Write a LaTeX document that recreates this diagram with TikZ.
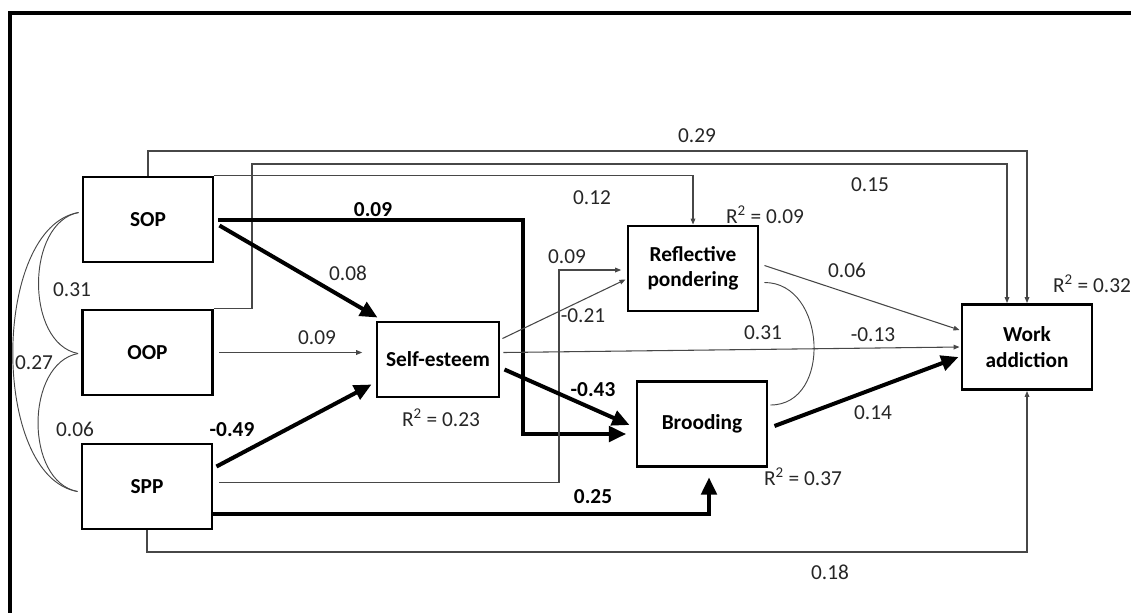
\documentclass[tikz,border=0pt]{standalone}
\usepackage{fontspec}
\setmainfont{Carlito}
\usetikzlibrary{arrows.meta,calc}
\begin{document}
\begin{tikzpicture}[x=0.75pt,y=-0.75pt,
  every node/.append style={font=\fontsize{16}{19}\selectfont},
  var/.style={draw=black,line width=2.2pt,fill=white,align=center,
    minimum width=97.5pt,minimum height=63.75pt,inner sep=0pt,
    font=\fontsize{16}{19}\selectfont\bfseries},
  thinpath/.style={draw=black!72,line width=0.8pt,-{Triangle[length=4.5pt,width=3.5pt]}},
  thickpath/.style={draw=black,line width=3pt,-{Triangle[length=13pt,width=11.5pt]}},
  corr/.style={draw=black!72,line width=0.7pt},
  lab/.style={text=black!85,inner sep=1pt},
  blab/.style={text=black,inner sep=1pt,font=\fontsize{16}{19}\selectfont\bfseries}
]
\useasboundingbox (0,0) rectangle (1131,612);

% outer frame (top and left edges)
\draw[line width=3pt] (10,620) -- (10,13) -- (1140,13);

% variables
\node[var] (SOP) at (148,219.5) {SOP};
\node[var] (OOP) at (147.5,352.5) {OOP};
\node[var] (SPP) at (147,486.5) {SPP};
\node[var,minimum width=91.5pt,minimum height=56.25pt] (SE) at (438,359.5) {Self-esteem};
\node[var] (Reflective) at (693,268.5) {Reflective\\pondering};
\node[var] (Brooding) at (702,424) {Brooding};
\node[var] (Work) at (1027,347) {Work\\addiction};

% routing points
\coordinate (r029) at (1027,151);
\coordinate (r015a) at (252,164);
\coordinate (r015b) at (1007,164);
\coordinate (r009a) at (523,434);
\coordinate (r009b) at (559,270);
\coordinate (r018) at (1027,552);

% direct paths to work addiction
\draw[thinpath] (SOP.north) |- (r029) -- (Work.north);
\draw[thinpath] (OOP.north east) -| (r015a) -- (r015b) -- (r015b |- Work.north);
\draw[thinpath] (SPP.south) |- (r018) -- (Work.south);

% paths from perfectionism dimensions
\draw[thinpath] (SOP.north east) -| (Reflective.north);
\draw[thickpath,shorten >=7pt] ($(SOP.east)+(4,0)$) -| (r009a) -- (r009a -| Brooding.west);
\draw[thickpath] ($(SOP.east)+(5,6)$) -- ($(SE.north west)+(2,-3)$);
\draw[thinpath,shorten <=4pt,shorten >=10pt] (OOP.east) -- (OOP.east -| SE.west);
\draw[thickpath] ($(SPP.east)+(3,-20)$) -- ($(SE.south west)+(-4,-14)$);
\draw[thinpath,shorten >=4pt] ($(SPP.east)+(6,-4)$) -| (r009b) -- (r009b -| Reflective.west);
\draw[thickpath,shorten >=7pt] ($(SPP.south east)+(0,-16)$) -| ($(Brooding.south)+(7,0)$);

% paths from self-esteem
\draw[thinpath] ($(SE.east)+(2,-21)$) -- ($(Reflective.west)+(-1,11)$);
\draw[thinpath] ($(SE.east)+(3,-7)$) -- ($(Work.west)+(-1,0)$);
\draw[thickpath] ($(SE.east)+(4,10)$) -- ($(Brooding.west)+(-6,1)$);

% paths from rumination
\draw[thinpath] ($(Reflective.east)+(5,-3)$) -- ($(Work.west)+(-1,-17)$);
\draw[thickpath] ($(Brooding.east)+(6,2)$) -- ($(Work.west)+(-2,10)$);

% correlations
\draw[corr] ($(Reflective.east)+(5,14)$) .. controls +(62,0) and +(62,0) .. ($(Brooding.east)+(2,-19)$);
\draw[corr] ($(SOP.west)+(-3,-7)$) .. controls +(-53,10) and +(-53,-10) .. ($(OOP.west)+(-3,1)$);
\draw[corr] ($(OOP.west)+(-3,1)$) .. controls +(-53,10) and +(-53,-10) .. ($(SPP.west)+(-3,5)$);
\draw[corr] ($(SOP.west)+(-3,-7)$) .. controls +(-87,15) and +(-87,-15) .. ($(SPP.west)+(-3,5)$);

% coefficients
\node[lab] (c029) at (697,136) {0.29};
\node[lab] (c015) at (870,185) {0.15};
\node[lab] (c012) at (592,198) {0.12};
\node[blab] (c009a) at (373,210) {0.09};
\node[lab] (rsq1) at (765,215) {R\textsuperscript{2} = 0.09};
\node[lab] (c008) at (348,273) {0.08};
\node[lab] (c009b) at (567,257) {0.09};
\node[lab] (c006a) at (847,270) {0.06};
\node[lab] (rsq4) at (1092,284) {R\textsuperscript{2} = 0.32};
\node[lab] (c009c) at (317,338) {0.09};
\node[lab] (c021) at (583,316) {-0.21};
\node[lab] (c031a) at (763,333) {0.31};
\node[lab] (c013) at (873,335) {-0.13};
\node[lab] (c031b) at (72,290) {0.31};
\node[lab] (c027) at (34,363) {0.27};
\node[lab] (c006b) at (75,429) {0.06};
\node[blab] (c049) at (232,430) {-0.49};
\node[lab] (rsq2) at (441,418) {R\textsuperscript{2} = 0.23};
\node[blab] (c043) at (593,390) {-0.43};
\node[lab] (c014) at (873,413) {0.14};
\node[lab] (rsq3) at (803,477) {R\textsuperscript{2} = 0.37};
\node[blab] (c025) at (593,497) {0.25};
\node[lab] (c018) at (830,572) {0.18};
\end{tikzpicture}
\end{document}
